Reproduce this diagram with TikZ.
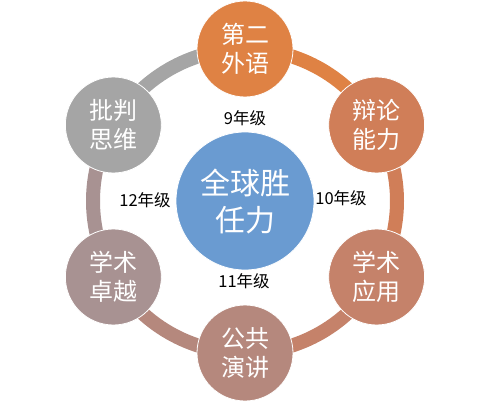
\documentclass[tikz,border=0pt]{standalone}
\usepackage{fontspec}
\newfontfamily\cjk{Noto Sans CJK SC}
\definecolor{cTop}{HTML}{DF8244}
\definecolor{cRT}{HTML}{D07E58}
\definecolor{cRB}{HTML}{C5826A}
\definecolor{cBot}{HTML}{B5887D}
\definecolor{cLB}{HTML}{A89292}
\definecolor{cLT}{HTML}{A5A5A5}
\definecolor{cCen}{HTML}{6A9BD1}
\tikzset{
  outer/.style={circle, minimum size=96pt, inner sep=0pt, draw=white, line width=0.8pt, text=white, align=center, font=\fontsize{24}{29}\cjk},
  center node/.style={circle, minimum size=138pt, inner sep=0pt, fill=cCen, draw=white, line width=0.8pt, text=white, align=center, font=\fontsize{30}{37}\cjk},
  ring/.style={line width=14pt},
  yearlbl/.style={font=\fontsize{16.5}{19}\cjk, text=black, inner sep=0pt}
}
\begin{document}
\begin{tikzpicture}[x=1pt,y=1pt]
\useasboundingbox (0,0) rectangle (489,402);
\coordinate (c) at (245,201);
\coordinate (p1) at ([shift={(90:152)}]c);
\coordinate (p2) at ([shift={(30:152)}]c);
\coordinate (p3) at ([shift={(-30:152)}]c);
\coordinate (p4) at ([shift={(-90:152)}]c);
\coordinate (p5) at ([shift={(-150:152)}]c);
\coordinate (p6) at ([shift={(150:152)}]c);
% ring segments
\draw[ring, cTop] (p1) arc[start angle=90, end angle=30, radius=152];
\draw[ring, cRT] (p2) arc[start angle=30, end angle=-30, radius=152];
\draw[ring, cRB] (p3) arc[start angle=-30, end angle=-90, radius=152];
\draw[ring, cBot] (p4) arc[start angle=-90, end angle=-150, radius=152];
\draw[ring, cLB] (p5) arc[start angle=-150, end angle=-210, radius=152];
\draw[ring, cLT] (p6) arc[start angle=150, end angle=90, radius=152];
% nodes
\node[outer, fill=cTop] (n1) at (p1) {第二\\外语};
\node[outer, fill=cRT] (n2) at (p2) {辩论\\能力};
\node[outer, fill=cRB] (n3) at (p3) {学术\\应用};
\node[outer, fill=cBot] (n4) at (p4) {公共\\演讲};
\node[outer, fill=cLB] (n5) at (p5) {学术\\卓越};
\node[outer, fill=cLT] (n6) at (p6) {批判\\思维};
\node[center node] (cen) at (c) {全球胜\\任力};
% year labels
\node[yearlbl] (y9) at (245,284) {9年级};
\node[yearlbl] (y10) at (341,204) {10年级};
\node[yearlbl] (y11) at (244,121) {11年级};
\node[yearlbl] (y12) at (145,202) {12年级};
\end{tikzpicture}
\end{document}
